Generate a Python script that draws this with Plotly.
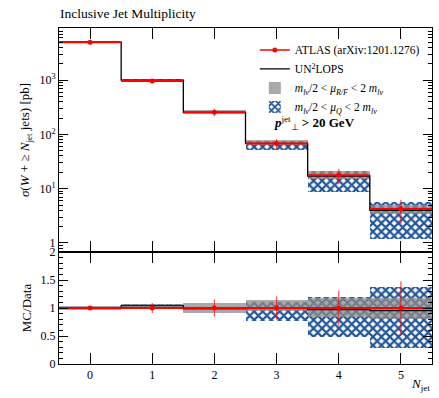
import plotly.graph_objects as go
from plotly.subplots import make_subplots

# ---- data ----
n_jet = [0, 1, 2, 3, 4, 5]
bin_edges = [-0.5, 0.5, 1.5, 2.5, 3.5, 4.5, 5.5]
data = [5000, 960, 257, 68, 17.6, 4.2]
data_err = [150, 86, 39, 14, 5.5, 2.0]
mc = [5000, 998, 254, 68, 17.1, 4.0]
rf_lo = [4850, 989, 236, 63.9, 14.8, 3.36]
rf_hi = [5150, 1027, 278, 77.5, 20.8, 4.96]
q_lo = [4950, 989, 249, 52.4, 8.6, 1.18]
q_hi = [5050, 1027, 257, 74.8, 21.1, 5.8]

top_tickvals = [1, 10, 100, 1000]
top_ticktext = ["1", "10<sup>1</sup>", "10<sup>2</sup>", "10<sup>3</sup>"]
ratio_tickvals = [0, 0.5, 1, 1.5, 2]
ratio_ticktext = ["0", "0.5", "1", "1.5", "2"]
x_ticktext = ["0", "1", "2", "3", "4", "5"]

FONT = "Liberation Serif"
RED = "#ff0000"
GRAY = "rgba(140,140,140,0.75)"
BLUE = "#22569a"

# derived ratios
r_data_err = [e / d for e, d in zip(data_err, data)]
r_mc = [m / d for m, d in zip(mc, data)]
r_rf_lo = [v / d for v, d in zip(rf_lo, data)]
r_rf_hi = [v / d for v, d in zip(rf_hi, data)]
r_q_lo = [v / d for v, d in zip(q_lo, data)]
r_q_hi = [v / d for v, d in zip(q_hi, data)]

fig = make_subplots(rows=2, cols=1, shared_xaxes=True, row_heights=[2 / 3, 1 / 3],
                    vertical_spacing=0)


def add_panel(row, d, derr, m, rlo, rhi, qlo, qhi, show):
    fig.add_trace(go.Bar(x=n_jet, base=qlo, y=[h - l for h, l in zip(qhi, qlo)], width=1,
                         marker=dict(color="rgba(0,0,0,0)", line=dict(width=0),
                                     pattern=dict(shape="x", fgcolor=BLUE, fgopacity=1, bgcolor="rgba(0,0,0,0)",
                                                  size=6, solidity=0.6, fillmode="overlay")),
                         name="<i>m</i><sub><i>lν</i></sub>/2 &lt; <i>μ</i><sub><i>Q</i></sub> &lt; 2 <i>m</i><sub><i>lν</i></sub>",
                         showlegend=show, legendrank=4), row=row, col=1)
    fig.add_trace(go.Bar(x=n_jet, base=rlo, y=[h - l for h, l in zip(rhi, rlo)], width=1,
                         marker=dict(color=GRAY, line=dict(width=0)),
                         name="<i>m</i><sub><i>lν</i></sub>/2 &lt; <i>μ</i><sub><i>R/F</i></sub> &lt; 2 <i>m</i><sub><i>lν</i></sub>",
                         showlegend=show, legendrank=3), row=row, col=1)
    fig.add_trace(go.Scatter(x=bin_edges, y=m + [m[-1]], mode="lines", line=dict(color="black", width=1.3, shape="hv"),
                             name="UN<sup>2</sup>LOPS", showlegend=show, legendrank=2), row=row, col=1)
    fig.add_trace(go.Scatter(x=n_jet, y=d, mode="markers",
                             marker=dict(color=RED, size=5),
                             error_x=dict(type="constant", value=0.5, color=RED, thickness=2, width=0),
                             error_y=dict(type="data", array=derr, color="rgba(255,0,0,0.7)", thickness=1.2, width=0),
                             showlegend=False), row=row, col=1)


add_panel(1, data, data_err, mc, rf_lo, rf_hi, q_lo, q_hi, True)
add_panel(2, [1] * len(data), r_data_err, r_mc, r_rf_lo, r_rf_hi, r_q_lo, r_q_hi, False)

# legend proxy for data (line + dot)
fig.add_trace(go.Scatter(x=[None], y=[None], mode="lines+markers", line=dict(color=RED, width=1.5),
                         marker=dict(color=RED, size=5), name="ATLAS (arXiv:1201.1276)", legendrank=1),
              row=1, col=1)

axis_common = dict(showline=True, linecolor="black", linewidth=1, mirror="allticks", ticks="inside",
                   tickcolor="black", showgrid=False, zeroline=False,
                   tickfont=dict(family=FONT, size=12, color="black"))

minor_log = [k * 10 ** e for e in range(-1, 4) for k in range(2, 10)]
fig.update_yaxes(type="log", range=[-0.167, 3.96], tickmode="array", tickvals=top_tickvals,
                 ticktext=top_ticktext, ticklen=9,
                 minor=dict(tickmode="array", tickvals=minor_log, ticks="inside", ticklen=4, tickcolor="black"),
                 title=dict(text="<i>σ</i>(<i>W</i> + ≥ <i>N</i><sub>jet</sub> jets) [pb]",
                            font=dict(family=FONT, size=13, color="black"), standoff=6),
                 **axis_common, row=1, col=1)
fig.update_yaxes(range=[0, 2], tickmode="array", tickvals=ratio_tickvals, ticktext=ratio_ticktext, ticklen=9,
                 minor=dict(dtick=0.1, ticks="inside", ticklen=4, tickcolor="black"),
                 title=dict(text="MC/Data", font=dict(family=FONT, size=13, color="black"), standoff=6),
                 **axis_common, row=2, col=1)
fig.update_xaxes(range=[-0.5, 5.5], tickmode="array", tickvals=n_jet, ticktext=x_ticktext, ticklen=11,
                 **axis_common)
fig.update_xaxes(showticklabels=False, row=1, col=1)

fig.add_annotation(xref="paper", yref="paper", x=1, y=-0.03, xanchor="right", yanchor="top",
                   text="<i>N</i><sub>jet</sub>", showarrow=False,
                   font=dict(family=FONT, size=13, color="black"))
fig.add_annotation(xref="paper", yref="paper", x=0.57, y=0.718, xanchor="left", yanchor="middle",
                   text="<b><i>p</i></b><sup>jet</sup><sub>⊥</sub><b> &gt; 20 GeV</b>", showarrow=False,
                   font=dict(family=FONT, size=13, color="black"))
fig.add_annotation(xref="paper", yref="paper", x=0, y=1 + 14 / 336, xanchor="left", yanchor="middle",
                   text="Inclusive Jet Multiplicity", showarrow=False, borderpad=0,
                   font=dict(family=FONT, size=13.5, color="black"))

fig.update_layout(
    width=439, height=398,
    margin=dict(l=59, r=7, t=28, b=34),
    paper_bgcolor="white", plot_bgcolor="white",
    barmode="overlay", bargap=0,
    legend=dict(x=0.525, y=0.978, xanchor="left", yanchor="top", bgcolor="rgba(0,0,0,0)",
                font=dict(family=FONT, size=11.5, color="black"), tracegroupgap=0, itemwidth=30),
    font=dict(family=FONT, color="black"),
)

fig.write_html("out.html", config={"displayModeBar": False},
               post_script="document.body.style.margin='0';")
